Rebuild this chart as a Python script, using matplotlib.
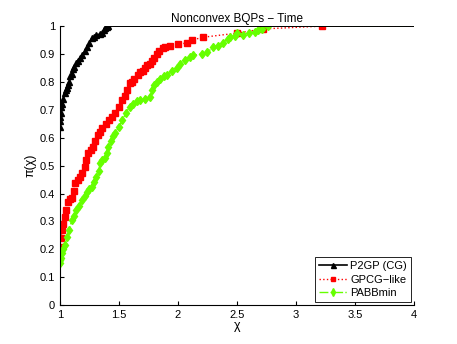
import matplotlib
matplotlib.use("Agg")
import matplotlib.pyplot as plt

plt.rcParams['font.family'] = ['Liberation Sans', 'DejaVu Sans']

# performance profile points (chi, pi(chi))
p2gp_x = [1.0, 1.0, 1.0, 1.01, 1.01, 1.02, 1.03, 1.04, 1.05, 1.06, 1.07, 1.08, 1.09,
          1.10, 1.11, 1.12, 1.14, 1.15, 1.17, 1.19, 1.21, 1.23, 1.25, 1.27, 1.29,
          1.31, 1.34, 1.36, 1.37, 1.38, 1.40, 1.41, 4.0]
p2gp_y = [0.64, 0.66, 0.675, 0.69, 0.71, 0.72, 0.74, 0.76, 0.77, 0.78, 0.79, 0.80, 0.82,
          0.83, 0.845, 0.855, 0.867, 0.875, 0.885, 0.896, 0.91, 0.925, 0.94, 0.957, 0.96,
          0.968, 0.972, 0.975, 0.985, 0.993, 0.997, 1.0, 1.0]

gpcg_x = [1.0, 1.0, 1.01, 1.02, 1.03, 1.04, 1.05, 1.07, 1.09, 1.10, 1.12, 1.13, 1.15,
          1.17, 1.19, 1.21, 1.22, 1.24, 1.26, 1.28, 1.30, 1.32, 1.34, 1.36, 1.39,
          1.42, 1.44, 1.47, 1.50, 1.53, 1.55, 1.57, 1.59, 1.61, 1.63, 1.66, 1.68,
          1.70, 1.72, 1.74, 1.76, 1.78, 1.80, 1.82, 1.84, 1.87, 1.89, 1.93, 2.0,
          2.08, 2.12, 2.21, 2.5, 2.72, 3.22, 4.0]
gpcg_y = [0.2, 0.21, 0.24, 0.27, 0.29, 0.315, 0.34, 0.37, 0.38, 0.385, 0.41, 0.437, 0.45,
          0.46, 0.475, 0.495, 0.52, 0.545, 0.555, 0.566, 0.59, 0.61, 0.62, 0.634, 0.65,
          0.663, 0.675, 0.69, 0.71, 0.735, 0.75, 0.77, 0.795, 0.80, 0.81, 0.825, 0.835,
          0.84, 0.85, 0.86, 0.865, 0.875, 0.885, 0.9, 0.91, 0.92, 0.925, 0.93, 0.935,
          0.94, 0.95, 0.96, 0.975, 0.99, 1.0, 1.0]

pabb_x = [1.0, 1.0, 1.01, 1.02, 1.03, 1.04, 1.06, 1.08, 1.10, 1.12, 1.14, 1.16, 1.19,
          1.21, 1.23, 1.25, 1.27, 1.29, 1.31, 1.33, 1.34, 1.36, 1.38, 1.40, 1.41,
          1.43, 1.45, 1.47, 1.50, 1.53, 1.56, 1.59, 1.62, 1.65, 1.68, 1.72, 1.76,
          1.78, 1.80, 1.82, 1.85, 1.88, 1.91, 1.95, 1.99, 2.02, 2.06, 2.10, 2.13,
          2.20, 2.25, 2.30, 2.34, 2.38, 2.42, 2.44, 2.48, 2.50, 2.55, 2.60, 2.65,
          2.68, 2.71, 2.76, 4.0]
pabb_y = [0.15, 0.16, 0.17, 0.186, 0.20, 0.215, 0.244, 0.27, 0.305, 0.32, 0.34, 0.355, 0.376,
          0.39, 0.405, 0.415, 0.423, 0.44, 0.46, 0.48, 0.51, 0.52, 0.527, 0.545, 0.566,
          0.59, 0.605, 0.617, 0.64, 0.663, 0.69, 0.71, 0.72, 0.73, 0.735, 0.74, 0.745,
          0.77, 0.79, 0.80, 0.81, 0.82, 0.825, 0.84, 0.85, 0.865, 0.88, 0.89, 0.896,
          0.9, 0.907, 0.925, 0.93, 0.94, 0.955, 0.96, 0.965, 0.975, 0.97, 0.975, 0.98,
          0.985, 0.99, 1.0, 1.0]

x_ticks = [1, 1.5, 2, 2.5, 3, 3.5, 4]
x_labels = ['1', '1.5', '2', '2.5', '3', '3.5', '4']
y_ticks = [0, 0.1, 0.2, 0.3, 0.4, 0.5, 0.6, 0.7, 0.8, 0.9, 1]
y_labels = ['0', '0.1', '0.2', '0.3', '0.4', '0.5', '0.6', '0.7', '0.8', '0.9', '1']

fig = plt.figure(figsize=(4.57, 3.44), dpi=100)
ax = fig.add_axes([0.131, 0.113, 0.775, 0.811])

green = '#66ff00'
ax.plot(p2gp_x, p2gp_y, color='black', linestyle='-', linewidth=1.2, marker='^',
        markersize=4.5, markevery=list(range(len(p2gp_x) - 1)), label='P2GP (CG)', zorder=3)
ax.plot(gpcg_x, gpcg_y, color='red', linestyle=':', linewidth=1.0, marker='s',
        markersize=4, markevery=list(range(len(gpcg_x) - 1)), label='GPCG\u2212like', zorder=2)
ax.plot(pabb_x, pabb_y, color=green, linestyle='-.', linewidth=1.0, marker='d',
        markersize=4.5, markevery=list(range(len(pabb_x) - 1)), label='PABBmin', zorder=2)

ax.set_xlim(1, 4)
ax.set_ylim(0, 1)
ax.set_xticks(x_ticks)
ax.set_xticklabels(x_labels)
ax.set_yticks(y_ticks)
ax.set_yticklabels(y_labels)
ax.tick_params(direction='in', labelsize=8, length=3)
ax.spines['top'].set_visible(False)
ax.spines['right'].set_visible(False)

ax.set_title('Nonconvex BQPs \u2212 Time', fontsize=8.5, pad=3)
ax.set_xlabel('\u03c7', fontsize=9, labelpad=0)
ax.set_ylabel('\u03c0(\u03c7)', fontsize=9, labelpad=2)

leg = ax.legend(loc='lower right', fontsize=8, fancybox=False, edgecolor='black',
                framealpha=1, handlelength=2.5, borderpad=0.35, labelspacing=0.3,
                handletextpad=0.3, borderaxespad=0.3, markerscale=0.8)
leg.get_frame().set_linewidth(0.6)

fig.savefig('out.png', dpi=100)
